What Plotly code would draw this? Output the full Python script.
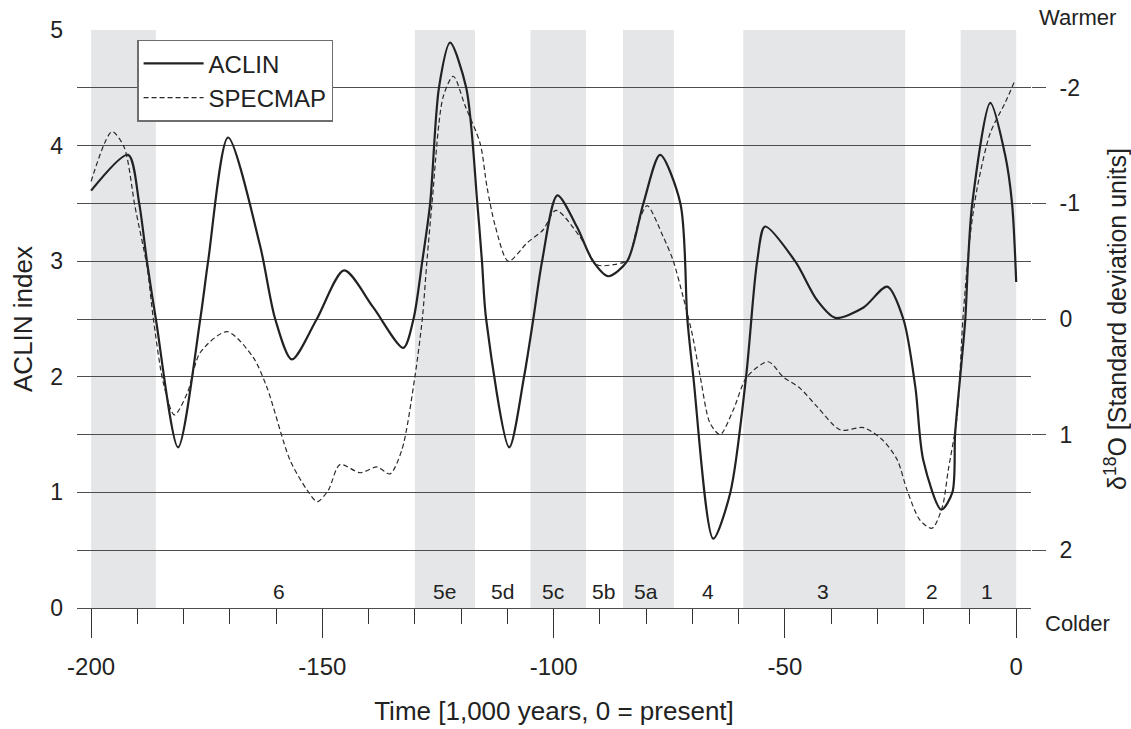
import plotly.graph_objects as go

# ACLIN index (left axis)
aclin_t = [-200, -192, -189.6, -187.9, -186, -181.2, -176.4, -174.7, -170.4, -163.5, -160.2, -156.6,
           -151.2, -145.3, -139, -132.5, -130.3, -128.4, -126.7, -124.8, -122.4, -118.9, -116.5, -115.5,
           -114.6, -109.6, -106.4, -104.4, -102.5, -99.2, -95, -91.5, -88.2, -84.1, -80.6, -77, -72.6,
           -71.1, -69.8, -65.5, -61.8, -58.4, -56, -54.3, -47.8, -43.0, -39.1, -33, -27.9, -24.4, -21.8,
           -20.1, -16.2, -13.8, -13.2, -11.9, -11.0, -10.4, -9.5, -5.6, -2.4, -0.9, 0]
aclin_v = [3.61, 3.92, 3.5, 2.99, 2.5, 1.39, 2.5, 3.0, 4.07, 3.14, 2.5, 2.15,
           2.5, 2.92, 2.6, 2.25, 2.5, 3.0, 3.5, 4.5, 4.89, 4.5, 3.5, 3.0,
           2.5, 1.39, 2.0, 2.5, 3.0, 3.57, 3.3, 3.0, 2.87, 3.0, 3.5, 3.92, 3.5,
           2.5, 2.0, 0.60, 1.0, 2.0, 3.0, 3.30, 3.0, 2.66, 2.51, 2.6, 2.78, 2.5, 1.91,
           1.28, 0.85, 1.0, 1.51, 2.09, 2.5, 3.0, 3.5, 4.37, 3.92, 3.5, 2.82]

# SPECMAP d18O (right axis, standard deviation units)
spec_t = [-200, -195.5, -192.9, -190.5, -187.9, -186.6, -184.4, -182, -179.2, -176.4, -170.6, -165,
          -162, -157, -153.3, -151.1, -148.7, -146.2, -141.8, -138.2, -135.4, -132.8, -130, -128.4,
          -127.4, -126.3, -123.9, -121.7, -119.1, -115.9, -114.4, -112.6, -109.8, -105.7, -102.3, -99.5,
          -94.3, -90.6, -87.1, -84.1, -81.7, -79.8, -76.3, -74.2, -72, -70.1, -68.3, -66.2, -64, -61.2,
          -58.2, -53.6, -50.4, -46.7, -43, -38, -33, -28.8, -25.7, -23.6, -20.8, -18.2, -16, -14.7,
          -12.8, -11.5, -9.9, -8.4, -5.6, -2.4, -0.2]
spec_v = [-1.19, -1.62, -1.49, -0.97, -0.45, -0.02, 0.55, 0.83, 0.64, 0.29, 0.11, 0.33,
          0.59, 1.22, 1.48, 1.58, 1.48, 1.26, 1.33, 1.28, 1.34, 1.13, 0.5, 0.0,
          -0.5, -1.0, -1.92, -2.10, -1.84, -1.52, -1.14, -0.80, -0.5, -0.66, -0.77, -0.94,
          -0.71, -0.47, -0.47, -0.51, -0.83, -0.98, -0.71, -0.51, -0.19, 0.12, 0.5, 0.9, 1.0, 0.79,
          0.5, 0.37, 0.5, 0.6, 0.76, 0.96, 0.94, 1.05, 1.22, 1.48, 1.74, 1.81, 1.63, 1.31,
          0.85, -0.01, -0.74, -1.14, -1.61, -1.87, -2.07]

# Isotope stages
stage_bands = [(-200, -186), (-130, -117), (-105, -93), (-85, -74), (-59, -24), (-12, 0)]
stage_names = ["6", "5e", "5d", "5c", "5b", "5a", "4", "3", "2", "1"]
stage_pos = [-159.4, -123.7, -111.1, -100.1, -89.3, -80.0, -66.6, -41.7, -18.2, -6.3]

x_ticks = [-200, -150, -100, -50, 0]
y_ticks = [0, 1, 2, 3, 4, 5]
sd_ticks = [-2, -1, 0, 1, 2]

FONT = "Liberation Sans, Arial, Helvetica, sans-serif"
GRID = "#4d4d4d"
INK = "#222222"

fig = go.Figure()
fig.add_trace(go.Scatter(x=aclin_t, y=aclin_v, mode="lines", name="ACLIN",
                         line=dict(color=INK, width=2.2, shape="spline", smoothing=0.8)))
fig.add_trace(go.Scatter(x=spec_t, y=spec_v, mode="lines", name="SPECMAP", yaxis="y2",
                         line=dict(color="#2a2a2a", width=1.2, dash="5px,3px", shape="spline", smoothing=0.8)))

for a, b in stage_bands:
    fig.add_shape(type="rect", xref="x", yref="y", x0=a, x1=b, y0=0, y1=5,
                  fillcolor="#e5e6e8", line=dict(width=0), layer="below")

for name, pos in zip(stage_names, stage_pos):
    fig.add_annotation(x=pos, y=0.14, xref="x", yref="y", text=name, showarrow=False,
                       xanchor="center", yanchor="middle",
                       font=dict(family=FONT, size=21, color=INK))

fig.add_annotation(x=1.0485, y=1.021, xref="paper", yref="paper", text="Warmer", showarrow=False,
                   xanchor="center", yanchor="middle",
                   font=dict(family=FONT, size=22, color=INK))
fig.add_annotation(x=1.0485, y=-0.026, xref="paper", yref="paper", text="Colder", showarrow=False,
                   xanchor="center", yanchor="middle",
                   font=dict(family=FONT, size=22, color=INK))

fig.update_layout(
    width=1131, height=729,
    margin=dict(l=77, r=100, t=30, b=121),
    plot_bgcolor="white", paper_bgcolor="white",
    font=dict(family=FONT, size=22, color=INK),
    showlegend=True,
    legend=dict(x=0.063, y=0.983, xanchor="left", yanchor="top",
                bgcolor="white", bordercolor="#6e6e6e", borderwidth=1.5,
                font=dict(family=FONT, size=24, color=INK), itemwidth=60,
                tracegroupgap=0),
    xaxis=dict(range=[-203.05, 3.2], tickmode="array", tickvals=x_ticks,
               ticktext=[str(v) for v in x_ticks], tickfont=dict(family=FONT, size=24, color=INK),
               ticks="outside", ticklen=29, tickwidth=1.3, tickcolor="#333333",
               showgrid=False, zeroline=False, showline=True, linecolor=GRID, linewidth=1.2,
               ticklabelstandoff=8, automargin=False,
               minor=dict(tickmode="linear", tick0=0, dtick=10, ticks="outside", ticklen=15,
                          tickwidth=1.3, tickcolor="#333333", showgrid=False),
               title=dict(text="Time [1,000 years, 0 = present]", standoff=22,
                          font=dict(family=FONT, size=26, color=INK))),
    yaxis=dict(range=[0, 5], tickmode="array", tickvals=y_ticks, ticktext=[str(v) for v in y_ticks],
               tickfont=dict(family=FONT, size=23, color=INK),
               showgrid=True, gridcolor=GRID, gridwidth=1.2, zeroline=False, showline=False,
               ticks="", ticklabelstandoff=13, automargin=False,
               title=dict(text="ACLIN index", standoff=10, font=dict(family=FONT, size=26, color=INK))),
    yaxis2=dict(range=[2.5, -2.5], overlaying="y", side="right", tickmode="array",
                tickvals=sd_ticks, ticktext=[str(v) for v in sd_ticks],
                tickfont=dict(family=FONT, size=23, color=INK),
                showgrid=True, gridcolor=GRID, gridwidth=1.2, zeroline=False, showline=False,
                ticks="outside", ticklen=14, tickwidth=1.2, tickcolor=GRID,
                ticklabelstandoff=9, automargin=False,
                title=dict(text="δ<sup>18</sup>O [Standard deviation units]", standoff=33,
                           font=dict(family=FONT, size=25, color=INK))),
)

fig.write_html("out.html")
